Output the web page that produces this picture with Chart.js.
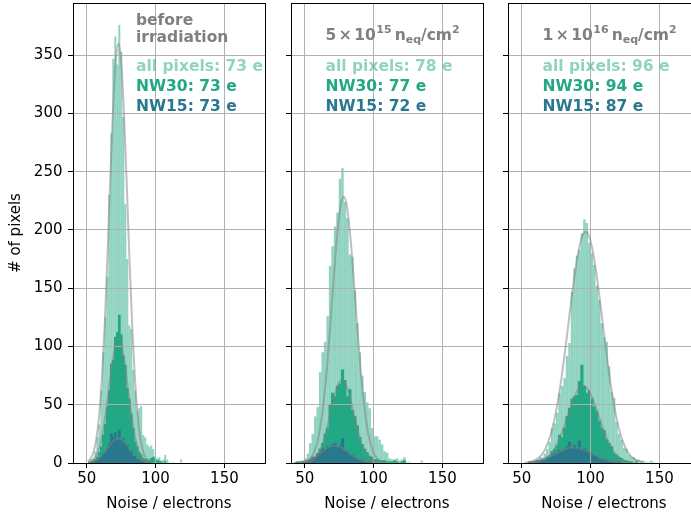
<!DOCTYPE html>
<html>
<head>
<meta charset="utf-8">
<title>Noise distributions</title>
<script src="https://cdn.jsdelivr.net/npm/chart.js@4.4.1/dist/chart.umd.min.js"></script>
<style>
  html, body { margin: 0; padding: 0; background: #fff; overflow: hidden; }
  #fig { position: relative; width: 691px; height: 517px; overflow: hidden; }
  #fig canvas { position: absolute; top: 0; }
</style>
</head>
<body>
<div id="fig">
  <canvas id="p1" width="272" height="517" style="left:0px"></canvas>
  <canvas id="p2" width="220" height="517" style="left:270px"></canvas>
  <canvas id="p3" width="220" height="517" style="left:487px"></canvas>
</div>
<script>
// ---- data ----
const xTicks = [50, 100, 150];
const yTicks = [0, 50, 100, 150, 200, 250, 300, 350];

// centre of first bin and bin width, one entry per panel
const binStart = [51.9, 43.2, 55.9];
const binWidth = [1.45, 1.8, 1.8];

// before irradiation
const beforeAll = [1, 3, 4, 10, 22, 33, 62, 95, 125, 160, 230, 283, 347, 366, 342, 376, 353, 297, 222, 175,
  118, 115, 80, 62, 45, 47, 49, 24, 22, 16, 14, 15, 12, 6, 4, 5, 2, 3, 7, 3, 1, 0, 1, 0, 0, 0, 3];
const beforeNW30 = [0, 0, 1, 3, 5, 9, 14, 24, 33, 48, 62, 85, 88, 108, 112, 127, 110, 92, 84, 64,
  55, 42, 30, 18, 14, 9, 7, 4, 3, 3, 2, 4, 5, 3, 2, 2, 1, 0, 1];
const beforeNW15 = [0, 1, 1, 2, 2, 4, 5, 8, 9, 13, 17, 25, 22, 26, 20, 28, 19, 21, 17, 15,
  10, 11, 6, 6, 3, 3, 2, 1, 1, 0, 1];

// 5e15 neq/cm2
const f5e15All = [1, 1, 2, 2, 4, 8, 17, 25, 40, 48, 78, 95, 104, 126, 169, 186, 203, 215, 244, 253,
  224, 210, 179, 177, 148, 120, 95, 75, 61, 52, 47, 30, 23, 23, 20, 16, 10, 9, 4, 3,
  3, 4, 2, 3, 5, 1, 1, 0, 0, 0, 0, 2];
const f5e15NW30 = [0, 0, 0, 0, 1, 1, 2, 3, 4, 8, 12, 17, 25, 30, 50, 60, 57, 66, 68, 80,
  71, 57, 63, 45, 40, 32, 22, 16, 12, 9, 6, 5, 3, 3, 2, 2, 2, 1, 1, 1, 2, 1, 0, 1, 2];
const f5e15NW15 = [0, 1, 0, 1, 2, 2, 3, 5, 5, 8, 9, 12, 11, 14, 13, 16, 17, 13, 15, 21,
  11, 10, 7, 7, 5, 4, 3, 2, 1, 1, 1];

// 1e16 neq/cm2
const f1e16All = [1, 2, 2, 3, 5, 5, 8, 12, 18, 30, 34, 43, 60, 66, 73, 92, 103, 147, 167, 178,
  183, 197, 209, 206, 189, 180, 170, 152, 140, 120, 108, 104, 83, 61, 56, 35, 25, 20, 13, 12,
  7, 5, 5, 3, 3, 2, 2, 1, 1, 2, 1];
const f1e16NW30 = [0, 0, 1, 1, 1, 2, 3, 4, 6, 10, 12, 15, 24, 22, 30, 40, 47, 55, 57, 58,
  70, 84, 66, 60, 62, 55, 48, 44, 36, 30, 28, 20, 17, 14, 8, 7, 5, 4, 2, 2, 1, 1, 0, 1];
const f1e16NW15 = [1, 0, 1, 2, 2, 3, 3, 5, 5, 7, 8, 9, 11, 10, 12, 14, 18, 12, 15, 12,
  19, 11, 13, 11, 9, 8, 6, 6, 4, 4, 3, 3, 2, 1, 1, 1, 1];

// gaussian fit curves (sampled points)
const fitBeforeX = [51, 53, 55, 57, 59, 61, 63, 65, 67, 69, 71, 73, 75, 77, 79, 81, 83, 85, 87, 89, 91, 93, 95];
const fitBeforeAll = [1.6, 4.2, 9.7, 20.8, 40.6, 72.6, 118, 176, 241, 301, 344, 360, 344, 301, 241, 176, 118, 72.6, 40.6, 20.8, 9.7, 4.2, 1.6];
const fitBeforeNW30 = [0.6, 1.4, 3.2, 6.7, 12.8, 22.5, 36.3, 53.6, 72.5, 90, 102.5, 107, 102.5, 90, 72.5, 53.6, 36.3, 22.5, 12.8, 6.7, 3.2, 1.4, 0.6];
const fitBeforeNW15 = [0.5, 0.9, 1.7, 2.8, 4.5, 6.8, 9.6, 12.7, 15.9, 18.5, 20.4, 21, 20.4, 18.5, 15.9, 12.7, 9.6, 6.8, 4.5, 2.8, 1.7, 0.9, 0.5];

const fit5e15XAll = [48.3, 50.3, 52.3, 54.3, 56.3, 58.3, 60.3, 62.3, 64.3, 66.3, 68.3, 70.3, 72.3, 74.3, 76.3, 78.3,
  80.3, 82.3, 84.3, 86.3, 88.3, 90.3, 92.3, 94.3, 96.3, 98.3, 100.3, 102.3, 104.3, 106.3, 108.3];
const fit5e15All = [0.45, 1.0, 2.1, 4.2, 8.0, 14.3, 24.3, 38.9, 58.9, 84.3, 114.3, 146.7, 178.1, 204.5, 222.3, 228.5,
  222.3, 204.5, 178.1, 146.7, 114.3, 84.3, 58.9, 38.9, 24.3, 14.3, 8.0, 4.2, 2.1, 1.0, 0.45];
const fit5e15XNW30 = [49.1, 51.1, 53.1, 55.1, 57.1, 59.1, 61.1, 63.1, 65.1, 67.1, 69.1, 71.1, 73.1, 75.1, 77.1,
  79.1, 81.1, 83.1, 85.1, 87.1, 89.1, 91.1, 93.1, 95.1, 97.1, 99.1, 101.1, 103.1, 105.1];
const fit5e15NW30 = [0.24, 0.5, 1.1, 2.1, 3.9, 6.8, 11.1, 17.2, 25.1, 34.6, 44.9, 55, 63.6, 69.4, 71.4,
  69.4, 63.6, 55, 44.9, 34.6, 25.1, 17.2, 11.1, 6.8, 3.9, 2.1, 1.1, 0.5, 0.24];
const fit5e15XNW15 = [43.7, 45.7, 47.7, 49.7, 51.7, 53.7, 55.7, 57.7, 59.7, 61.7, 63.7, 65.7, 67.7, 69.7, 71.7,
  73.7, 75.7, 77.7, 79.7, 81.7, 83.7, 85.7, 87.7, 89.7, 91.7, 93.7, 95.7, 97.7, 99.7];
const fit5e15NW15 = [0.3, 0.5, 0.8, 1.3, 2.0, 2.9, 4.1, 5.6, 7.2, 9.0, 10.7, 12.4, 13.7, 14.5, 14.8,
  14.5, 13.7, 12.4, 10.7, 9.0, 7.2, 5.6, 4.1, 2.9, 2.0, 1.3, 0.8, 0.5, 0.3];

const fit1e16XAll = [54.4, 57.4, 60.4, 63.4, 66.4, 69.4, 72.4, 75.4, 78.4, 81.4, 84.4, 87.4, 90.4, 93.4, 96.4,
  99.4, 102.4, 105.4, 108.4, 111.4, 114.4, 117.4, 120.4, 123.4, 126.4, 129.4, 132.4, 135.4, 138.4];
const fit1e16All = [0.6, 1.4, 2.9, 5.7, 10.6, 18.5, 30.5, 47.3, 69.2, 95.5, 124.3, 152.5, 176.6, 192.8, 198.5,
  192.8, 176.6, 152.5, 124.3, 95.5, 69.2, 47.3, 30.5, 18.5, 10.6, 5.7, 2.9, 1.4, 0.6];
const fit1e16XNW30 = [58.6, 61.6, 64.6, 67.6, 70.6, 73.6, 76.6, 79.6, 82.6, 85.6, 88.6, 91.6, 94.6,
  97.6, 100.6, 103.6, 106.6, 109.6, 112.6, 115.6, 118.6, 121.6, 124.6, 127.6, 130.6];
const fit1e16NW30 = [0.4, 0.9, 2.0, 3.8, 7.0, 11.8, 18.6, 27.5, 37.7, 48.3, 57.6, 64, 66.3,
  64, 57.6, 48.3, 37.7, 27.5, 18.6, 11.8, 7.0, 3.8, 2.0, 0.9, 0.4];
const fit1e16XNW15 = [52.1, 55.1, 58.1, 61.1, 64.1, 67.1, 70.1, 73.1, 76.1, 79.1, 82.1, 85.1, 88.1,
  91.1, 94.1, 97.1, 100.1, 103.1, 106.1, 109.1, 112.1, 115.1, 118.1, 121.1, 124.1];
const fit1e16NW15 = [0.3, 0.5, 0.9, 1.6, 2.4, 3.6, 5.1, 6.9, 8.8, 10.5, 12.0, 13.05, 13.4,
  13.05, 12.0, 10.5, 8.8, 6.9, 5.1, 3.6, 2.4, 1.6, 0.9, 0.5, 0.3];

// mean noise labels
const meanAll = [73, 78, 96];
const meanNW30 = [73, 77, 94];
const meanNW15 = [73, 72, 87];
const fluenceMant = [null, '5', '1'];
const fluenceExp = [null, '15', '16'];

// ---- styling ----
const FONT = 'DejaVu Sans';
const colAll = 'rgba(34,168,132,0.5)';
const colNW30 = '#22a884';
const colNW15 = '#2a788e';
const colFit = 'rgba(128,128,128,0.5)';
const colTitle = '#808080';

function histPoints(counts, p) {
  return counts.map((c, i) => ({ x: binStart[p] + i * binWidth[p], y: c }));
}
function curvePoints(xs, ys) {
  return xs.map((x, i) => ({ x: x, y: ys[i] }));
}
function crisp(v) {
  return Math.floor(v) + 0.5;
}

function drawFluenceTitle(ctx, x, y, mant, exp) {
  const big = 'bold 15.5px "' + FONT + '"';
  const small = 'bold 11px "' + FONT + '"';
  const parts = [
    [mant, big, 0, 2.5], ['\u00d7', big, 0, 2.5], ['10', big, 0, 0.5],
    [exp, small, -6.7, 3], ['n', big, 0, 0], ['eq', small, 2.8, 0],
    ['/cm', big, 0, 0], ['2', small, -6.7, 0]
  ];
  parts.forEach(([t, f, dy, gap]) => {
    ctx.font = f;
    ctx.fillText(t, x, y + dy);
    x += ctx.measureText(t).width + gap;
  });
}

const framePlugin = {
  id: 'frame',
  afterDatasetDraw(chart, args, opts) {
    // grid goes above the bars but below the fit curves
    if (args.index !== opts.gridAfter) return;
    const { ctx, chartArea: a } = chart;
    const sx = chart.scales.x, sy = chart.scales.y;
    ctx.save();
    ctx.strokeStyle = '#b0b0b0';
    ctx.lineWidth = 1;
    ctx.beginPath();
    xTicks.forEach(v => {
      const px = crisp(sx.getPixelForValue(v));
      ctx.moveTo(px, a.top);
      ctx.lineTo(px, a.bottom);
    });
    yTicks.forEach(v => {
      const py = crisp(sy.getPixelForValue(v));
      ctx.moveTo(a.left, py);
      ctx.lineTo(a.right, py);
    });
    ctx.stroke();
    ctx.restore();
  },
  afterDraw(chart, args, opts) {
    const { ctx, chartArea: a } = chart;
    ctx.save();
    ctx.strokeStyle = '#000';
    ctx.lineWidth = 1;
    ctx.strokeRect(crisp(a.left), crisp(a.top), Math.round(a.right - a.left), Math.round(a.bottom - a.top));

    const p = opts.panel;
    const tx = a.left + opts.textX;
    ctx.textBaseline = 'alphabetic';
    ctx.textAlign = 'left';
    ctx.fillStyle = colTitle;
    if (p === 0) {
      ctx.font = 'bold 15.5px "' + FONT + '"';
      ctx.fillText('before', tx, 25);
      ctx.fillText('irradiation', tx, 41.5);
    } else {
      drawFluenceTitle(ctx, tx, 40, fluenceMant[p], fluenceExp[p]);
    }
    ctx.font = 'bold 15.5px "' + FONT + '"';
    ctx.fillStyle = colAll;
    ctx.fillText('all pixels: ' + meanAll[p] + ' e', tx, 71);
    ctx.fillStyle = colNW30;
    ctx.fillText('NW30: ' + meanNW30[p] + ' e', tx, 91);
    ctx.fillStyle = colNW15;
    ctx.fillText('NW15: ' + meanNW15[p] + ' e', tx, 110.7);
    ctx.restore();
  }
};

function makeChart(id, p, hists, fits, yAxisWidth, rightPad, textX) {
  const tickFont = { family: FONT, size: 15 };
  const datasets = [
    { type: 'bar', label: 'all pixels', data: histPoints(hists[0], p), backgroundColor: colAll, order: 3, inflateAmount: 0 },
    { type: 'bar', label: 'NW30', data: histPoints(hists[1], p), backgroundColor: colNW30, order: 2, inflateAmount: 0.35 },
    { type: 'bar', label: 'NW15', data: histPoints(hists[2], p), backgroundColor: colNW15, order: 1, inflateAmount: 0.35 }
  ].map(d => Object.assign(d, {
    borderWidth: 0, grouped: false, barPercentage: 1, categoryPercentage: 1
  }));
  fits.forEach(f => {
    datasets.push({
      type: 'line', data: curvePoints(f[0], f[1]), borderColor: colFit, borderWidth: 2,
      pointRadius: 0, fill: false, cubicInterpolationMode: 'monotone', order: 0
    });
  });

  return new Chart(document.getElementById(id), {
    type: 'bar',
    data: { datasets: datasets },
    options: {
      responsive: false,
      animation: false,
      devicePixelRatio: 1,
      events: [],
      layout: { padding: { left: 0, right: rightPad, top: 3, bottom: 0 } },
      plugins: {
        legend: { display: false },
        tooltip: { enabled: false },
        frame: { panel: p, gridAfter: 2, textX: textX }
      },
      scales: {
        x: {
          type: 'linear', min: 40, max: 179.5, offset: false,
          afterBuildTicks: ax => { ax.ticks = xTicks.map(v => ({ value: v })); },
          afterFit: ax => { ax.height = 54; ax.paddingLeft = 0; ax.paddingRight = 0; },
          grid: { offset: false, drawOnChartArea: false, color: 'rgba(0,0,0,0)', tickColor: '#000', tickLength: 5, tickWidth: 1 },
          border: { display: false },
          ticks: { color: '#000', font: tickFont, padding: 2, maxRotation: 0, autoSkip: false, callback: v => String(v) },
          title: { display: true, text: 'Noise / electrons', color: '#000', font: tickFont, padding: { top: 0, bottom: 4 } }
        },
        y: {
          type: 'linear', min: 0, max: 394.8,
          afterBuildTicks: ax => { ax.ticks = yTicks.map(v => ({ value: v })); },
          afterFit: ax => { ax.width = yAxisWidth; ax.paddingTop = 0; ax.paddingBottom = 0; },
          grid: { drawOnChartArea: false, color: 'rgba(0,0,0,0)', tickColor: '#000', tickLength: 5, tickWidth: 1 },
          border: { display: false },
          ticks: { display: p === 0, color: '#000', font: tickFont, padding: 5.5, autoSkip: false, callback: v => String(v) },
          title: { display: p === 0, text: '# of pixels', color: '#000', font: tickFont, padding: { top: 7, bottom: 0 } }
        }
      }
    },
    plugins: [framePlugin]
  });
}

makeChart('p1', 0, [beforeAll, beforeNW30, beforeNW15],
  [[fitBeforeX, fitBeforeAll], [fitBeforeX, fitBeforeNW30], [fitBeforeX, fitBeforeNW15]], 73, 7, 63);
makeChart('p2', 1, [f5e15All, f5e15NW30, f5e15NW15],
  [[fit5e15XAll, fit5e15All], [fit5e15XNW30, fit5e15NW30], [fit5e15XNW15, fit5e15NW15]], 21, 7, 34.5);
makeChart('p3', 2, [f1e16All, f1e16NW30, f1e16NW15],
  [[fit1e16XAll, fit1e16All], [fit1e16XNW30, fit1e16NW30], [fit1e16XNW15, fit1e16NW15]], 21, 7, 34.5);
</script>
</body>
</html>
